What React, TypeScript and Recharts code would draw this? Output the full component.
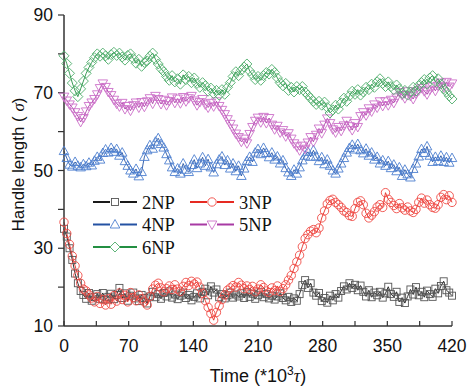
import { LineChart, Line, XAxis, YAxis, Legend } from "recharts";

// time, *10^3 tau
const times = [
  0, 3, 6, 9, 12, 15, 18, 21, 24, 27,
  30, 33, 36, 39, 42, 45, 48, 51, 54, 57,
  60, 63, 66, 69, 72, 75, 78, 81, 84, 87,
  90, 93, 96, 99, 102, 105, 108, 111, 114, 117,
  120, 123, 126, 129, 132, 135, 138, 141, 144, 147,
  150, 153, 156, 159, 162, 165, 168, 171, 174, 177,
  180, 183, 186, 189, 192, 195, 198, 201, 204, 207,
  210, 213, 216, 219, 222, 225, 228, 231, 234, 237,
  240, 243, 246, 249, 252, 255, 258, 261, 264, 267,
  270, 273, 276, 279, 282, 285, 288, 291, 294, 297,
  300, 303, 306, 309, 312, 315, 318, 321, 324, 327,
  330, 333, 336, 339, 342, 345, 348, 351, 354, 357,
  360, 363, 366, 369, 372, 375, 378, 381, 384, 387,
  390, 393, 396, 399, 402, 405, 408, 411, 414, 417,
  420,
];

const np2 = [
  35, 33, 30, 27, 23.5, 21, 19, 18, 17, 18.5,
  16.5, 17.5, 18.2, 17, 18.5, 16.8, 17.5, 18.3, 16.9, 18,
  19.8, 17.2, 18.4, 16.5, 17.8, 18.6, 17.1, 16.4, 18, 17.2,
  15.8, 17.6, 18.8, 17.4, 18.2, 17, 18.5, 17.6, 18.9, 17.3,
  18.1, 16.9, 17.8, 18.6, 17.2, 18, 16.6, 17.5, 18.4, 17.1,
  18.8, 19.6, 17.9, 20.2, 18.6, 19.4, 17.4, 18.2, 17.1, 17.9,
  18.6, 17.3, 18.1, 17.6, 18.4, 17.2, 18.7, 17.5, 18.3, 17,
  17.9, 18.8, 17.4, 18.2, 17.1, 17.8, 16.8, 17.6, 18.4, 17.2,
  16.6, 17.5, 16.2, 17.1, 16.5, 18.2, 20.5, 21.8, 19.8, 21,
  18.6, 17.8, 18.5, 16.4, 17.2, 16, 17.8, 16.6, 18.2, 17.3,
  19, 20.2, 19.4, 21, 19.8, 20.6, 19.2, 20.4, 18.8, 17.6,
  19.2, 17.4, 18.6, 17.9, 18.8, 17.3, 18.4, 20.1, 18.2, 17.5,
  18.8, 16.2, 17.3, 15.9, 17.6, 19.4, 18.1, 20, 17.9, 18.8,
  17.4, 19.1, 18.2, 17.5, 19.6, 18.4, 20.3, 21.5, 19.2, 18.6,
  17.8,
];

const np3 = [
  36.7, 33.8, 31, 28, 25.5, 23, 21, 19.5, 19, 18,
  17.2, 16.2, 17.6, 15.8, 16.8, 15.4, 17, 15.6, 17.8, 16.4,
  18.5, 16.8, 17.9, 16.2, 18.6, 17.3, 16.5, 18, 17, 16.2,
  15.4, 17.6, 19.5, 20.5, 21, 19.8, 18.8, 19.6, 20.3, 19.4,
  20.6, 19.5, 18.9, 20.2, 21.2, 20.4, 21.5, 20.8, 21.3, 20,
  18.4, 16.5, 14.8, 13.2, 11.5, 13.5, 15.2, 16.8, 18, 19.2,
  19.8, 20.4, 20, 21.2, 20.5, 19.6, 20.3, 19.4, 20.2, 18.8,
  19.5, 20.6, 19.9, 19, 18.6, 19.8, 19.1, 20.3, 18.9, 19.6,
  20.6, 21.8, 23, 24.8, 26.5, 28.2, 30.4, 32.5, 33.5, 34.4,
  34.8, 34, 35.2, 37.8, 39.6, 41.4, 42.3, 42.6, 41.8, 41.2,
  40.5, 39.6, 39.2, 38.4, 38.2, 40.2, 41.8, 42.2, 41.2, 39,
  37.8, 38.5, 39.4, 40.6, 41.2, 40.5, 44.3, 42.6, 41.8, 41,
  40.2, 41.5, 40.4, 39.8, 40.6, 39.6, 39.2, 40, 41.8, 42.9,
  41.6, 42.4, 41.2, 40.5, 40.3, 41.2, 43.1, 43.8, 42.5, 43.5,
  41.8,
];

const np4 = [
  55, 53.2, 51.5, 51, 52.2, 51.2, 50.8, 51.6, 51.1, 52,
  51.3, 52.5, 53.5, 52.8, 54.5, 55.4, 54.6, 55.8, 54.8, 55.5,
  53.8, 54.6, 52.4, 51.2, 50, 49.2, 50.4, 48.5, 49.6, 53.5,
  55.2, 56.5, 55.6, 57.4, 58.3, 56.8, 55.9, 54.2, 52.6, 50.8,
  49.6, 50.5, 49.2, 51.8, 50.2, 49.6, 51.4, 52.8, 50.6, 51.8,
  53.4, 51.2, 52.9, 50.8, 49.5, 51.6, 52.8, 53.6, 51.4, 52.6,
  50.5, 51.8, 49.8, 51.2, 48.6, 50.5, 52.4, 53.5, 52.2, 54.6,
  55.5, 54.2, 55.8, 54.5, 53.4, 54.6, 52.8, 53.6, 51.8, 52.6,
  50.6, 49.5, 48.6, 50.2, 49.2, 50.8, 52.6, 53.8, 54.8, 53.5,
  55.2, 53.6, 52.4, 53.4, 51.6, 52.8, 51.2, 50, 49.2, 50.5,
  51.8, 53.2, 54.6, 55.8, 56.6, 55.4, 56.8, 55.2, 54.4, 55.6,
  53.8, 54.6, 52.8, 53.5, 51.8, 52.6, 51.2, 52.4, 50.6, 51.5,
  49.8, 50.8, 48.6, 50.2, 49, 48.2, 50.4, 51.8, 53.6, 55.5,
  54.5, 56.2, 53.8, 52.2, 53.5, 52.4, 53.8, 52.2, 53.4, 52,
  53.2,
];

const np5 = [
  69, 68, 67, 66.2, 65, 64, 62.5, 63.5, 65.2, 66.6,
  67.5, 68.4, 69.6, 71.2, 72.4, 71.5, 70.2, 69.4, 68.2, 67.2,
  66.5, 67.4, 65.8, 66.6, 65.4, 66.8, 67.5, 66.2, 67.6, 66.4,
  67.8, 68.6, 67.2, 69.2, 68.4, 67.1, 68.2, 66.8, 67.9, 68.8,
  67.4, 68.5, 67.3, 68.9, 67.8, 68.6, 69.2, 68, 66.8, 67.6,
  68.4, 67, 66.2, 67.4, 66.5, 67.8, 66.6, 65.6, 64.5, 63.2,
  62, 60.8, 59.5, 58.6, 57.4, 58.2, 57, 59.4, 61.2, 62.8,
  63.6, 62.4, 63.8, 62.2, 63.5, 61.8, 60.6, 61.5, 59.8, 60.4,
  58.8, 59.6, 58.2, 57, 56.2, 55.2, 56.4, 55.6, 57.2, 58.6,
  57.4, 59.2, 60.8, 59.6, 61.8, 63.4, 62.2, 60.6, 59.8, 61.2,
  60.2, 61.6, 62.8, 61.4, 60.4, 62.2, 61.2, 64, 65, 64.2,
  66, 65.2, 67, 66.2, 67.8, 66.6, 67.8, 66.8, 68.2, 67.4,
  68.8, 70.2, 69.4, 68.6, 70.4, 69.2, 68.4, 69.8, 70.6, 71.2,
  70.4, 69.6, 70.8, 71.6, 70.5, 71.8, 72.6, 71.4, 72.8, 71.6,
  72.4,
];

const np6 = [
  79.5, 77.5, 75, 72.5, 70.5, 69, 71, 73, 75, 76.5,
  77.8, 79, 80, 79.4, 80.2, 79.5, 78.6, 79.8, 80.4, 79.6,
  80.2, 79.2, 78.4, 79.6, 80, 78.8, 77.6, 78.6, 76.8, 77.8,
  78.2, 79.4, 80.2, 78.6, 77.4, 76.2, 75.4, 74.2, 73.2, 74.4,
  72.8, 73.6, 72.2, 74.6, 73.4, 74.2, 72.6, 73.8, 72.4, 71.4,
  72.6, 71.8, 70.4, 71.2, 69.8, 70.6, 69.4, 70.8, 69.6, 71.4,
  72.6, 74.2, 75.4, 74.4, 75.8, 76.6, 77.4, 75.6, 74.6, 73.4,
  74.2, 73.2, 74.4, 75.2, 74.8, 76, 75.2, 73.8, 72.6, 71.8,
  72.4, 70.6, 71.4, 70.2, 71.6, 70.8, 71.6, 70.2, 69.4, 68.6,
  67.8, 67, 67.8, 66.8, 67.6, 66.2, 64.8, 65.6, 66.8, 65.8,
  67.4, 68.6, 67.8, 69.2, 70.4, 69.6, 70.8, 69.4, 70.2, 71.4,
  70.8, 72.2, 71.4, 72.8, 73.6, 72.4, 71.6, 72.8, 71.6, 70.8,
  72, 71, 69.8, 70.6, 69.4, 70.2, 71.4, 70.4, 71.8, 72.6,
  73.4, 72.2, 73.8, 74.4, 72.8, 73.6, 72.2, 71, 70.2, 69.2,
  68.4,
];

const xTicks = [0, 35, 70, 105, 140, 175, 210, 245, 280, 315, 350, 385, 420];
const xLabels = [0, 70, 140, 210, 280, 350, 420];
const yTicks = [10, 20, 30, 40, 50, 60, 70, 80, 90];
const yLabels = [10, 30, 50, 70, 90];

const data = times.map((t, i) => ({
  t,
  np2: np2[i],
  np3: np3[i],
  np4: np4[i],
  np5: np5[i],
  np6: np6[i],
}));

type Shape = "square" | "circle" | "triUp" | "triDown" | "diamond";

const series: { key: string; name: string; line: string; mark: string; shape: Shape }[] = [
  { key: "np2", name: "2NP", line: "#1a1a1a", mark: "#555555", shape: "square" },
  { key: "np3", name: "3NP", line: "#e62a22", mark: "#ef4a44", shape: "circle" },
  { key: "np4", name: "4NP", line: "#2452a3", mark: "#4d7fcf", shape: "triUp" },
  { key: "np5", name: "5NP", line: "#a83aa4", mark: "#cc6fc8", shape: "triDown" },
  { key: "np6", name: "6NP", line: "#238f42", mark: "#4dad6a", shape: "diamond" },
];

const sansFont = "Arial, 'Liberation Sans', sans-serif";
const serifFont = "'Times New Roman', 'Liberation Serif', serif";

function marker(shape: Shape, cx: number, cy: number, color: string, key?: any) {
  const common = { fill: "none", stroke: color, strokeWidth: 0.9 };
  if (shape === "square") return <rect key={key} x={cx - 3.5} y={cy - 3.5} width={7} height={7} {...common} />;
  if (shape === "circle") return <circle key={key} cx={cx} cy={cy} r={4.2} {...common} />;
  if (shape === "triUp")
    return <polygon key={key} points={`${cx},${cy - 5} ${cx + 4.8},${cy + 3.5} ${cx - 4.8},${cy + 3.5}`} {...common} />;
  if (shape === "triDown")
    return <polygon key={key} points={`${cx},${cy + 5} ${cx + 4.8},${cy - 3.5} ${cx - 4.8},${cy - 3.5}`} {...common} />;
  return <polygon key={key} points={`${cx},${cy - 5} ${cx + 5},${cy} ${cx},${cy + 5} ${cx - 5},${cy}`} {...common} />;
}

const makeDot = (shape: Shape, color: string) => (p: any) => {
  const { cx, cy, index } = p;
  if (cx == null || cy == null) return <g key={`d-${index}`} />;
  return marker(shape, cx, cy, color, `d-${index}`);
};

const XTick = (p: any) => {
  const { x, y, payload } = p;
  const v = payload.value;
  return (
    <g>
      <line x1={x} x2={x} y1={y} y2={y - 5} stroke="#333" strokeWidth={1.2} />
      {xLabels.includes(v) && (
        <text x={x} y={y + 26} textAnchor="middle" fontSize={17.5} fontFamily={sansFont} fill="#111">
          {v}
        </text>
      )}
    </g>
  );
};

const XTitle = (p: any) => {
  const vb = p.viewBox;
  return (
    <text x={vb.x + vb.width / 2} y={vb.y + 56} textAnchor="middle" fontSize={18} fontFamily={sansFont} fill="#111">
      Time (*10
      <tspan fontSize={12} dy={-7}>3</tspan>
      <tspan dy={7} fontStyle="italic" fontFamily={serifFont}>τ</tspan>)
    </text>
  );
};

const YTitle = (p: any) => {
  const vb = p.viewBox;
  const cy = vb.y + vb.height / 2 - 6;
  return (
    <text
      x={24}
      y={cy}
      transform={`rotate(-90 24 ${cy})`}
      textAnchor="middle"
      fontSize={17}
      fontFamily={sansFont}
      fill="#111"
    >
      Handle length ( <tspan fontStyle="italic" fontFamily={serifFont}>σ</tspan>)
    </text>
  );
};

const legendRows = [
  [series[0], series[1]],
  [series[2], series[3]],
  [series[4]],
];

const renderLegend = () => (
  <svg width={200} height={72}>
    {legendRows.map((row, r) =>
      row.map((s, c) => {
        const cy = 14 + r * 22.5;
        const x0 = c === 0 ? 8 : 105;
        return (
          <g key={s.key}>
            <line x1={x0} x2={x0 + 44} y1={cy} y2={cy} stroke={s.line} strokeWidth={2} />
            <rect x={x0 + 17} y={cy - 5} width={10} height={10} fill="#fff" />
            {marker(s.shape, x0 + 22, cy, s.mark)}
            <text x={x0 + 49} y={cy + 6.5} fontSize={18.5} fontFamily={serifFont} fill="#111">
              {s.name}
            </text>
          </g>
        );
      })
    )}
  </svg>
);

export default function App() {
  return (
    <div style={{ position: "absolute", left: 0, top: 0, width: 467, height: 388, background: "#fff" }}>
      <LineChart width={467} height={388} data={data} margin={{ top: 15, right: 15, left: 0, bottom: 0 }}>
        <XAxis
          dataKey="t"
          type="number"
          domain={[0, 420]}
          ticks={xTicks}
          interval={0}
          height={62}
          tickSize={0}
          tickMargin={0}
          tickLine={false}
          tick={<XTick />}
          axisLine={{ stroke: "#333", strokeWidth: 1.5 }}
          label={<XTitle />}
        />
        <XAxis
          xAxisId="top"
          orientation="top"
          type="number"
          domain={[0, 420]}
          height={0}
          tick={false}
          tickLine={false}
          axisLine={{ stroke: "#666", strokeWidth: 1.5 }}
        />
        <YAxis
          type="number"
          domain={[10, 90]}
          ticks={yTicks}
          interval={0}
          width={64}
          tickSize={6}
          tickMargin={5}
          tickLine={{ stroke: "#333", strokeWidth: 1.2 }}
          tickFormatter={(v: number) => (yLabels.includes(v) ? String(v) : "")}
          tick={{ fontSize: 17.5, fontFamily: sansFont, fill: "#111" }}
          axisLine={{ stroke: "#333", strokeWidth: 1.5 }}
          label={<YTitle />}
        />
        <YAxis
          yAxisId="right"
          orientation="right"
          type="number"
          domain={[10, 90]}
          width={0}
          tick={false}
          tickLine={false}
          axisLine={{ stroke: "#222", strokeWidth: 1.5 }}
        />
        <Legend
          layout="vertical"
          align="center"
          verticalAlign="middle"
          content={renderLegend}
          wrapperStyle={{ position: "absolute", left: 85, top: 188, width: 200, height: 72 }}
        />
        {series.map((s) => (
          <Line
            key={s.key}
            dataKey={s.key}
            name={s.name}
            type="linear"
            stroke={s.line}
            strokeWidth={0.9}
            dot={makeDot(s.shape, s.mark)}
            activeDot={false}
            isAnimationActive={false}
          />
        ))}
      </LineChart>
    </div>
  );
}
